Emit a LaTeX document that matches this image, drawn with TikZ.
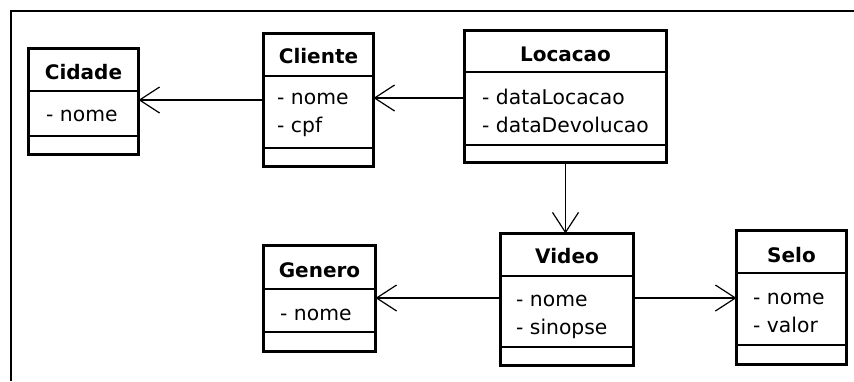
\documentclass[tikz,border=0pt]{standalone}
\usepackage{fontspec}
\setmainfont{DejaVu Sans}
\usetikzlibrary{arrows.meta}

\tikzset{
  classbox/.style={draw, line width=3pt, anchor=north west, inner sep=0pt, outer sep=0pt},
  divider/.style={line width=1.2pt},
  ctitle/.style={anchor=base, inner sep=0pt, font=\fontsize{20}{24}\selectfont\bfseries},
  attr/.style={anchor=base west, inner sep=0pt, font=\fontsize{20.3}{24}\selectfont},
  assoc/.style={line width=1.2pt, -{Straight Barb[length=20pt, width=26pt]}},
  frameline/.style={line width=2pt},
}

\begin{document}
\begin{tikzpicture}[x=1pt, y=-1pt]
\useasboundingbox (0,0) rectangle (854,381);
\fill[white] (0,0) rectangle (854,381);

% outer frame (top and left edges)
\draw[frameline] (854,10.5) -- (10.5,10.5) -- (10.5,381);

% Cidade
\node[classbox, minimum width=110pt, minimum height=106pt] (cidade) at (28.5,48.5) {};
\draw[divider] (cidade.west |- 0,91) -- (cidade.east |- 0,91);
\draw[divider] (cidade.west |- 0,136) -- (cidade.east |- 0,136);
\node[ctitle] at (cidade.north |- 0,79) {Cidade};
\node[attr] at (46,121.5) {- nome};

% Cliente
\node[classbox, minimum width=110pt, minimum height=133pt] (cliente) at (263.5,33.5) {};
\draw[divider] (cliente.west |- 0,76) -- (cliente.east |- 0,76);
\draw[divider] (cliente.west |- 0,148) -- (cliente.east |- 0,148);
\node[ctitle] at (cliente.north |- 0,63) {Cliente};
\node[attr] at (277,104) {- nome};
\node[attr] at (277,132) {- cpf};

% Locacao
\node[classbox, minimum width=202pt, minimum height=132pt] (locacao) at (464.5,30.5) {};
\draw[divider] (locacao.west |- 0,72) -- (locacao.east |- 0,72);
\draw[divider] (locacao.west |- 0,145) -- (locacao.east |- 0,145);
\node[ctitle] at (locacao.north |- 0,61) {Locacao};
\node[attr] at (482,104) {- dataLocacao};
\node[attr] at (482,132) {- dataDevolucao};

% Genero
\node[classbox, minimum width=112pt, minimum height=106pt] (genero) at (263.5,245.5) {};
\draw[divider] (genero.west |- 0,289) -- (genero.east |- 0,289);
\draw[divider] (genero.west |- 0,332) -- (genero.east |- 0,332);
\node[ctitle] at (genero.north |- 0,277) {Genero};
\node[attr] at (280,320) {- nome};

% Video
\node[classbox, minimum width=133pt, minimum height=132pt] (video) at (500.5,233.5) {};
\draw[divider] (video.west |- 0,276) -- (video.east |- 0,276);
\draw[divider] (video.west |- 0,347) -- (video.east |- 0,347);
\node[ctitle] at (video.north |- 0,263) {Video};
\node[attr] at (516,306) {- nome};
\node[attr] at (516,334) {- sinopse};

% Selo
\node[classbox, minimum width=110pt, minimum height=134pt] (selo) at (736.5,230.5) {};
\draw[divider] (selo.west |- 0,273) -- (selo.east |- 0,273);
\draw[divider] (selo.west |- 0,345) -- (selo.east |- 0,345);
\node[ctitle] at (selo.north |- 0,262) {Selo};
\node[attr] at (753,304) {- nome};
\node[attr] at (753,332) {- valor};

% associations
\draw[assoc] (cliente.west |- 0,100) -- (cidade.east |- 0,100);
\draw[assoc] (locacao.west |- 0,98) -- (cliente.east |- 0,98);
\draw[assoc] (locacao.south) -- (locacao.south |- video.north);
\draw[assoc] (video.west |- 0,298) -- (genero.east |- 0,298);
\draw[assoc] (video.east |- 0,298) -- (selo.west |- 0,298);
\end{tikzpicture}
\end{document}
